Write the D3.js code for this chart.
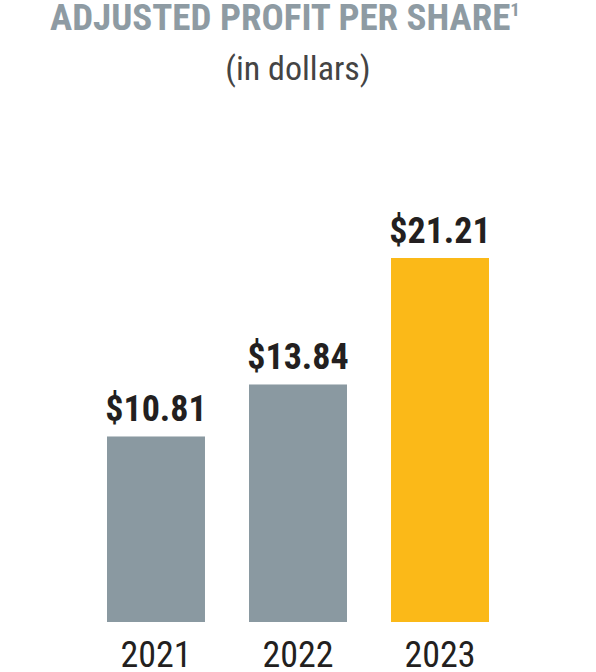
<!DOCTYPE html>
<html><head><meta charset="utf-8">
<script src="https://cdn.jsdelivr.net/npm/d3@7"></script>
<style>body{margin:0;background:#fff}svg{display:block}</style>
</head><body>
<script>
const years = ["2021","2022","2023"];
const values = [10.81, 13.84, 21.21];
const valueLabels = ["$10.81","$13.84","$21.21"];
const barColors = ["#8a99a1","#8a99a1","#fbb918"];
const W=596,H=672;
const F="'Liberation Sans Narrow','Roboto Condensed','Liberation Sans',sans-serif";
const svg=d3.select("body").append("svg").attr("width",W).attr("height",H);
const x=d3.scaleBand().domain(years).range([107,489]).paddingInner(0.31).paddingOuter(0);
const y=d3.scaleLinear().domain([0,21.21]).range([622,258]);
const t=svg.append("text").attr("x",285).attr("y",30).attr("text-anchor","middle")
 .attr("font-family",F).attr("font-weight","bold").attr("font-size",37).attr("fill","#8e9ba3");
t.append("tspan").text("ADJUSTED PROFIT PER SHARE");
t.append("tspan").text("1").attr("font-size",19).attr("dy",-14);
svg.append("text").attr("x",298).attr("y",80).attr("text-anchor","middle").attr("font-family",F)
 .attr("font-size",34).attr("fill","#444").text("(in dollars)");
svg.selectAll("rect.b").data(values).join("rect").attr("x",(d,i)=>x(years[i])).attr("width",x.bandwidth())
 .attr("y",d=>y(d)).attr("height",d=>y(0)-y(d)).attr("fill",(d,i)=>barColors[i]);
svg.selectAll("text.v").data(values).join("text").attr("x",(d,i)=>x(years[i])+x.bandwidth()/2)
 .attr("y",d=>y(d)-15).attr("text-anchor","middle").attr("font-family",F).attr("font-weight","bold")
 .attr("font-size",36).attr("fill","#231f20").text((d,i)=>valueLabels[i]);
const ax=svg.append("g").attr("transform","translate(0,622)").call(d3.axisBottom(x).tickSize(0).tickPadding(0));
ax.select(".domain").remove();
ax.selectAll("text").attr("dy",0).attr("y",45).attr("font-family",F).attr("font-size",36).attr("fill","#231f20");
</script>
</body></html>
